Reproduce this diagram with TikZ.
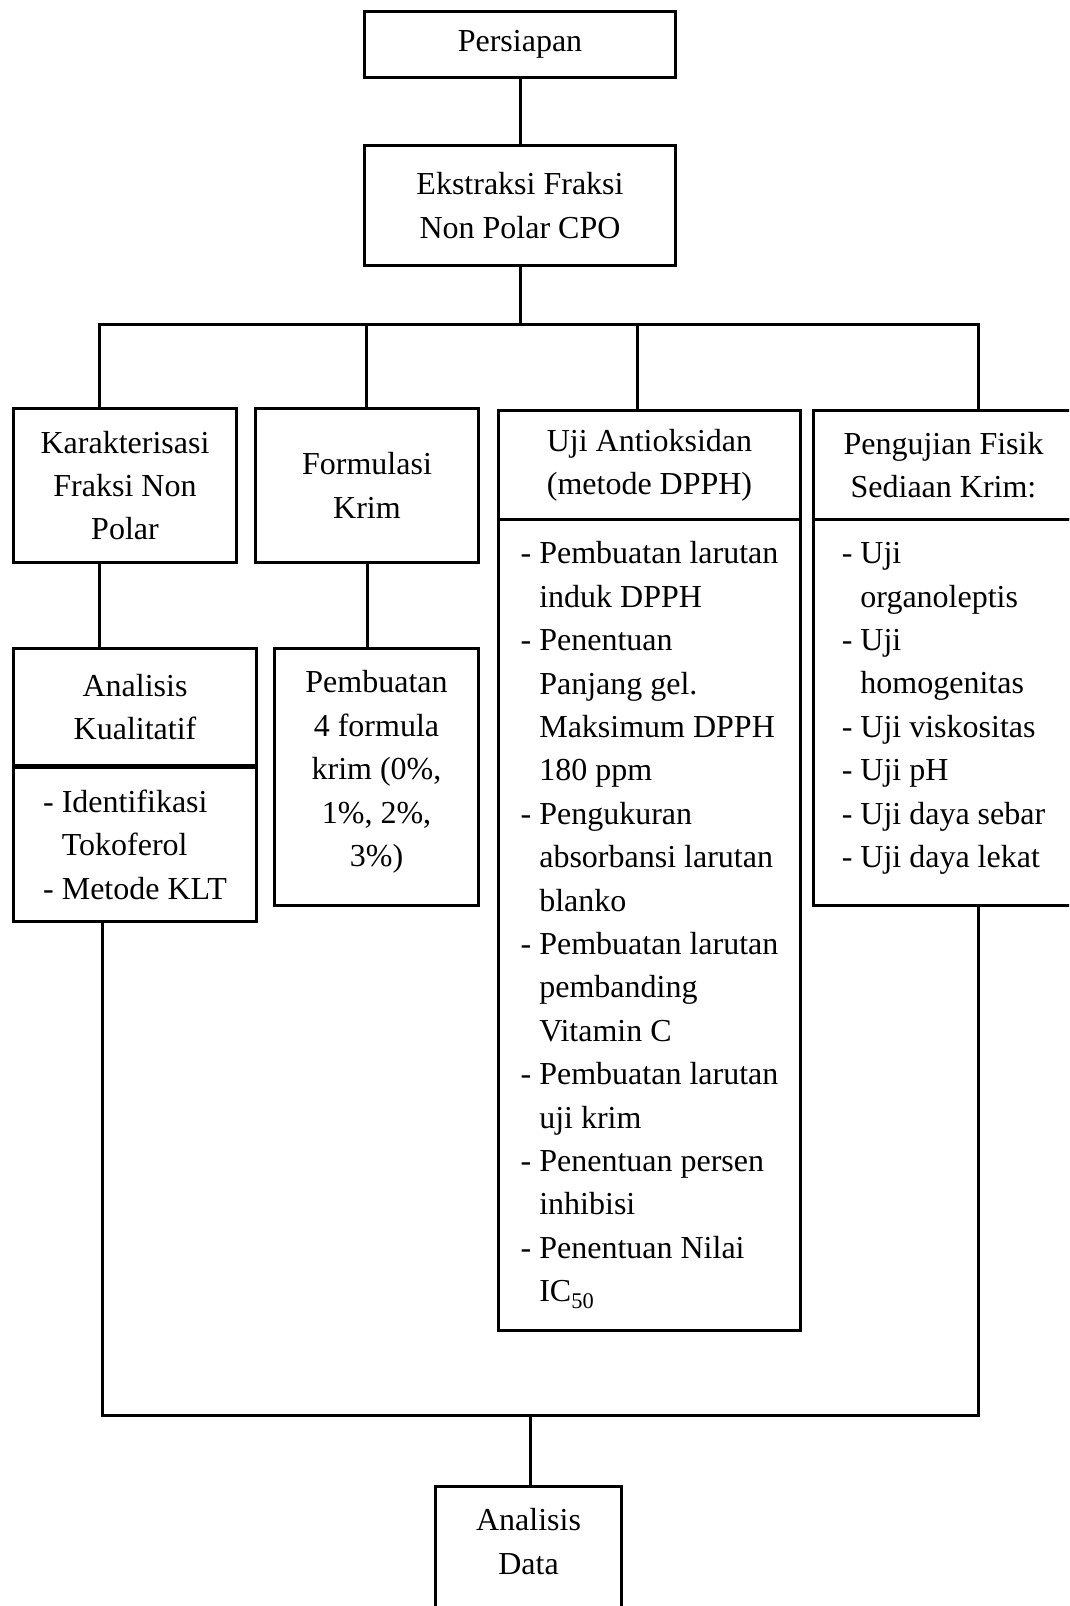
\documentclass[tikz,border=0pt]{standalone}
\usepackage{fontspec}
\setmainfont{Liberation Serif}
\usepackage{tikz}

\newcommand{\ind}{\hphantom{- }}

\begin{document}
\begin{tikzpicture}[x=1pt, y=-1pt, font=\fontsize{32}{43.4}\selectfont,
    kotak/.style={draw, line width=3pt, inner sep=0pt, anchor=north west, align=center},
    daftar/.style={kotak, align=left},
    garis/.style={line width=3pt}]
    \clip (0,0) rectangle (1069,1606);

    \node[kotak, minimum width=311pt, minimum height=66pt] (persiapan) at (363,10) {Persiapan};
    \node[kotak, minimum width=311pt, minimum height=120pt] (ekstraksi) at (363,144) {Ekstraksi Fraksi\\Non Polar CPO};

    % baris kedua
    \node[kotak, minimum width=223pt, minimum height=154pt] (kar) at (12,407) {Karakterisasi\\Fraksi Non\\Polar};
    \node[kotak, minimum width=223pt, minimum height=154pt] (form) at (254,407) {Formulasi\\Krim};
    \node[kotak, minimum width=302pt, minimum height=109pt] (uji) at (497,409) {Uji Antioksidan\\(metode DPPH)};
    \node[daftar, minimum width=302pt, minimum height=811pt] (ujilist) at (497,518)
      {- Pembuatan larutan\\\ind induk DPPH\\- Penentuan\\\ind Panjang gel.\\\ind Maksimum DPPH\\\ind 180 ppm\\- Pengukuran\\\ind absorbansi larutan\\\ind blanko\\- Pembuatan larutan\\\ind pembanding\\\ind Vitamin C\\- Pembuatan larutan\\\ind uji krim\\- Penentuan persen\\\ind inhibisi\\- Penentuan Nilai\\\ind IC\textsubscript{50}};
    \node[kotak, minimum width=260pt, minimum height=109pt] (fisik) at (812,409) {Pengujian Fisik\\Sediaan Krim:};
    \node[daftar, minimum width=260pt, minimum height=386pt, text depth=15pt] (fisiklist) at (812,518)
      {- Uji\\\ind organoleptis\\- Uji\\\ind homogenitas\\- Uji viskositas\\- Uji pH\\- Uji daya sebar\\- Uji daya lekat};

    % baris ketiga
    \node[kotak, minimum width=243pt, minimum height=117pt] (anal) at (12,647) {Analisis\\Kualitatif};
    \node[daftar, minimum width=243pt, minimum height=154pt] (anallist) at (12,766)
      {- Identifikasi\\\ind Tokoferol\\- Metode KLT};
    \node[kotak, minimum width=204pt, minimum height=257pt, text depth=17pt] (buat) at (273,647) {Pembuatan\\4 formula\\krim (0\%,\\1\%, 2\%,\\3\%)};

    \node[kotak, minimum width=186pt, minimum height=124pt, text depth=14pt] (data) at (434,1485) {Analisis\\Data};

    % garis penghubung
    \coordinate (b1) at (99,324);
    \coordinate (b2) at (366,324);
    \coordinate (b3) at (637,324);
    \coordinate (b4) at (978,324);
    \coordinate (k1) at (102,1415);
    \coordinate (k2) at (978,1415);
    \coordinate (k3) at (530,1415);

    \draw[garis] (persiapan) -- (ekstraksi);
    \draw[garis] (ekstraksi) -- (ekstraksi.south |- b1);
    \draw[garis] (kar.north -| b1) -- (b1) -- (b4) -- (fisik.north -| b4);
    \foreach \c/\n in {b2/form, b3/uji}
      \draw[garis] (\c) -- (\c |- \n.north);
    \draw[garis] (kar.south -| b1) -- (anal.north -| b1);
    \draw[garis] (form.south) -- (form.south |- buat.north);
    \draw[garis] (anallist.south -| k1) -- (k1) -- (k2) -- (fisiklist.south -| k2);
    \draw[garis] (k3) -- (k3 |- data.north);
\end{tikzpicture}
\end{document}
